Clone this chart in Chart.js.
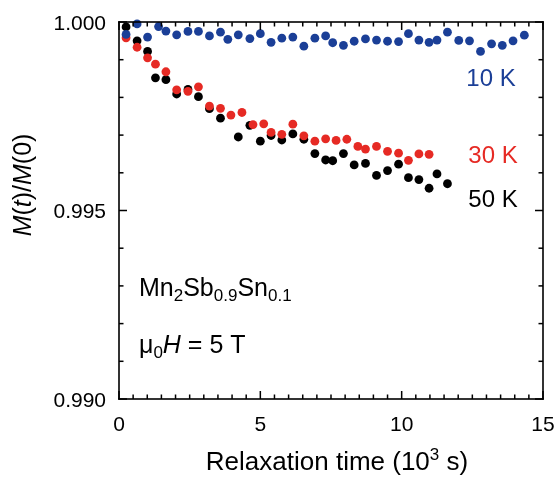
<!DOCTYPE html>
<html>
<head>
<meta charset="utf-8">
<script src="https://cdn.jsdelivr.net/npm/chart.js@4.4.1/dist/chart.umd.min.js"></script>
<style>
  html, body { margin: 0; padding: 0; background: #fff; }
</style>
</head>
<body>
<canvas id="c" width="555" height="477"></canvas>
<script>
// Relaxation time (10^3 s) and normalised magnetisation M(t)/M(0)
const xTicks = [0, 5, 10, 15];
const yTicks = [0.990, 0.995, 1.000];

const t10K = [0.25, 0.64, 1.01, 1.40, 1.66, 2.04, 2.44, 2.81, 3.20, 3.59, 3.85, 4.22, 4.63, 5.00, 5.38,
              5.76, 6.15, 6.54, 6.93, 7.31, 7.56, 7.94, 8.32, 8.72, 9.11, 9.50, 9.89, 10.24, 10.61, 10.97,
              11.25, 11.62, 12.02, 12.40, 12.79, 13.18, 13.56, 13.94, 14.34];
const m10K = [0.99967, 0.99995, 0.99960, 0.99988, 0.99976, 0.99966, 0.99975, 0.99975, 0.99963, 0.99973,
              0.99954, 0.99966, 0.99956, 0.99969, 0.99946, 0.99957, 0.99960, 0.99936, 0.99957, 0.99963,
              0.99945, 0.99938, 0.99949, 0.99955, 0.99952, 0.99949, 0.99948, 0.99969, 0.99952, 0.99946,
              0.99952, 0.99973, 0.99951, 0.99950, 0.99922, 0.99942, 0.99938, 0.99950, 0.99965];

const t30K = [0.25, 0.64, 1.01, 1.29, 1.66, 2.04, 2.44, 2.81, 3.20, 3.59, 3.96, 4.35, 4.74, 5.12, 5.38,
              5.76, 6.15, 6.54, 6.93, 7.31, 7.68, 8.06, 8.45, 8.72, 9.11, 9.50, 9.89, 10.24, 10.61, 10.97];
const m30K = [0.99958, 0.99933, 0.99905, 0.99888, 0.99868, 0.99820, 0.99816, 0.99828, 0.99777, 0.99771,
              0.99753, 0.99760, 0.99728, 0.99730, 0.99707, 0.99702, 0.99729, 0.99698, 0.99684, 0.99690,
              0.99686, 0.99689, 0.99670, 0.99663, 0.99670, 0.99657, 0.99652, 0.99633, 0.99650, 0.99649];

const t50K = [0.25, 0.64, 1.01, 1.29, 1.66, 2.04, 2.44, 2.81, 3.20, 3.59, 4.22, 4.63, 5.00, 5.38, 5.76,
              6.15, 6.54, 6.93, 7.31, 7.56, 7.94, 8.32, 8.72, 9.11, 9.50, 9.89, 10.24, 10.61, 10.97, 11.25, 11.62];
const m50K = [0.99987, 0.99950, 0.99922, 0.99852, 0.99847, 0.99809, 0.99821, 0.99802, 0.99770, 0.99745,
              0.99695, 0.99726, 0.99684, 0.99699, 0.99687, 0.99703, 0.99689, 0.99651, 0.99634, 0.99632,
              0.99651, 0.99621, 0.99625, 0.99593, 0.99606, 0.99623, 0.99587, 0.99582, 0.99559, 0.99597, 0.99571];

const FONT = '"Liberation Sans", Arial, Helvetica, sans-serif';
const BLUE = '#1b3f97';
const RED = '#e62a24';
const BLACK = '#000000';

const pts = (xs, ys) => xs.map((x, i) => ({ x: x, y: ys[i] }));

// Draws a sequence of differently styled text pieces on one baseline
function drawRuns(ctx, runs, x, y, align) {
  let total = 0;
  runs.forEach(r => { ctx.font = r.font; r.w = ctx.measureText(r.text).width; total += r.w; });
  let cx = align === 'center' ? x - total / 2 : (align === 'right' ? x - total : x);
  ctx.textAlign = 'left';
  ctx.textBaseline = 'alphabetic';
  runs.forEach(r => {
    ctx.font = r.font;
    if (r.color) ctx.fillStyle = r.color;
    ctx.fillText(r.text, cx, y + (r.dy || 0));
    cx += r.w;
  });
}

const f = (size, style) => (style ? style + ' ' : '') + size + 'px ' + FONT;

// Box frame with inward ticks on all four sides, tick labels, titles and labels
const framePlugin = {
  id: 'frame',
  afterDraw(chart) {
    const ctx = chart.ctx;
    const a = chart.chartArea;
    const xs = chart.scales.x, ys = chart.scales.y;
    const L = a.left, R = a.right, T = a.top, B = a.bottom;
    ctx.save();
    ctx.fillStyle = '#000';
    const w = 1.6;
    ctx.fillRect(L - w / 2, T - w / 2, R - L + w, w);
    ctx.fillRect(L - w / 2, B - w / 2, R - L + w, w);
    ctx.fillRect(L - w / 2, T - w / 2, w, B - T + w);
    ctx.fillRect(R - w / 2, T - w / 2, w, B - T + w);

    const tw = 1.5;
    for (let i = 0; i <= 30; i++) {
      const px = xs.getPixelForValue(i * 0.5);
      const len = (i % 10 === 0) ? 8 : 4.5;
      ctx.fillRect(px - tw / 2, B - len, tw, len);
      ctx.fillRect(px - tw / 2, T, tw, len);
    }
    for (let i = 0; i <= 10; i++) {
      const py = ys.getPixelForValue(0.990 + i * 0.001);
      const len = (i % 5 === 0) ? 8 : 4.5;
      ctx.fillRect(L, py - tw / 2, len, tw);
      ctx.fillRect(R - len, py - tw / 2, len, tw);
    }

    // tick labels
    ctx.fillStyle = '#000';
    ctx.font = f(21);
    ctx.textBaseline = 'alphabetic';
    ctx.textAlign = 'center';
    xTicks.forEach(v => ctx.fillText(String(v), xs.getPixelForValue(v), 431));
    ctx.textAlign = 'right';
    yTicks.forEach(v => ctx.fillText(v.toFixed(3), 106, ys.getPixelForValue(v) + 7.5));

    // series labels
    drawRuns(ctx, [{ text: '10 K', font: f(24), color: BLUE }], 491, 86, 'center');
    drawRuns(ctx, [{ text: '30 K', font: f(24), color: RED }], 493, 163, 'center');
    drawRuns(ctx, [{ text: '50 K', font: f(24), color: BLACK }], 493, 207, 'center');

    // sample and field
    drawRuns(ctx, [
      { text: 'Mn', font: f(25), color: BLACK },
      { text: '2', font: f(17), dy: 5 },
      { text: 'Sb', font: f(25) },
      { text: '0.9', font: f(17), dy: 5 },
      { text: 'Sn', font: f(25) },
      { text: '0.1', font: f(17), dy: 5 }
    ], 139, 296, 'left');
    drawRuns(ctx, [
      { text: '\u03bc', font: f(25), color: BLACK },
      { text: '0', font: f(17), dy: 5 },
      { text: 'H', font: f(25, 'italic') },
      { text: ' = 5 T', font: f(25) }
    ], 139, 353, 'left');

    // x axis title
    drawRuns(ctx, [
      { text: 'Relaxation time (10', font: f(26), color: BLACK },
      { text: '3', font: f(17), dy: -10 },
      { text: ' s)', font: f(26) }
    ], 337, 470, 'center');

    // y axis title
    ctx.save();
    ctx.translate(31, 185);
    ctx.rotate(-Math.PI / 2);
    drawRuns(ctx, [
      { text: 'M', font: f(25, 'italic'), color: BLACK },
      { text: '(', font: f(25) },
      { text: 't', font: f(25, 'italic') },
      { text: ')/', font: f(25) },
      { text: 'M', font: f(25, 'italic') },
      { text: '(0)', font: f(25) }
    ], 0, 0, 'center');
    ctx.restore();

    ctx.restore();
  }
};

const chart = new Chart(document.getElementById('c'), {
  type: 'scatter',
  data: {
    datasets: [
      { label: '10 K', data: pts(t10K, m10K), backgroundColor: BLUE, order: 1 },
      { label: '30 K', data: pts(t30K, m30K), backgroundColor: RED, order: 2 },
      { label: '50 K', data: pts(t50K, m50K), backgroundColor: BLACK, order: 3 }
    ]
  },
  options: {
    responsive: false,
    animation: false,
    clip: false,
    layout: { padding: { left: 0, top: 22, right: 12, bottom: 0 } },
    elements: { point: { radius: 4.4, borderWidth: 0, hoverRadius: 4.4 } },
    plugins: { legend: { display: false }, tooltip: { enabled: false } },
    scales: {
      x: {
        type: 'linear',
        min: xTicks[0],
        max: xTicks[xTicks.length - 1],
        afterBuildTicks: s => { s.ticks = xTicks.map(v => ({ value: v })); },
        afterFit: s => { s.height = 78; },
        ticks: { display: false },
        grid: { display: false, drawTicks: false },
        border: { display: false }
      },
      y: {
        type: 'linear',
        min: yTicks[0],
        max: yTicks[yTicks.length - 1],
        afterBuildTicks: s => { s.ticks = yTicks.map(v => ({ value: v })); },
        afterFit: s => { s.width = 119; },
        ticks: { display: false },
        grid: { display: false, drawTicks: false },
        border: { display: false }
      }
    }
  },
  plugins: [framePlugin]
});
</script>
</body>
</html>
